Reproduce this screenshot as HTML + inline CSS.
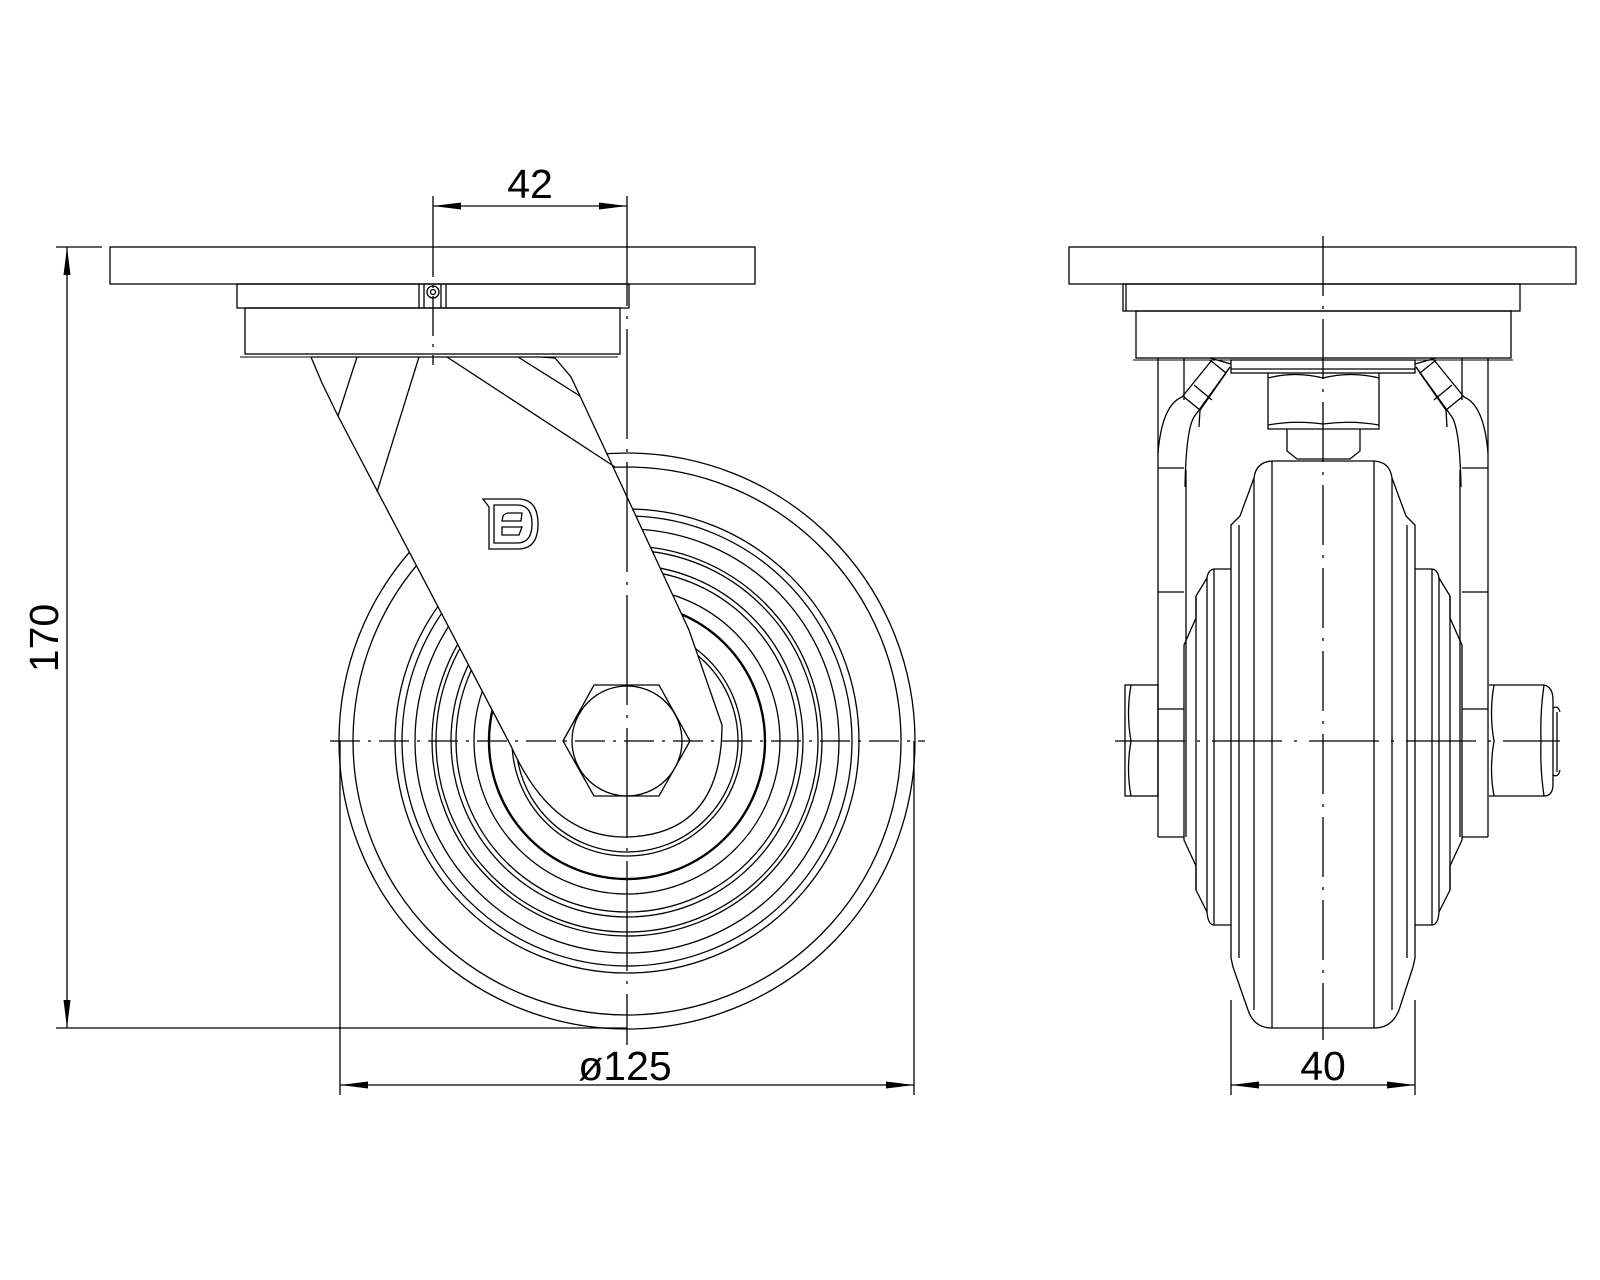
<!DOCTYPE html>
<html><head><meta charset="utf-8"><style>
html,body{margin:0;padding:0;background:#fff}
svg{display:block}
text{font-family:"Liberation Sans",sans-serif;font-size:41px;fill:#000}
</style></head><body>
<svg width="1600" height="1280" viewBox="0 0 1600 1280" xmlns="http://www.w3.org/2000/svg">
<defs>
<marker id="a" markerWidth="30" markerHeight="10" refX="28" refY="5" orient="auto-start-reverse" markerUnits="userSpaceOnUse">
<path d="M28,5 L0,1.5 L0,8.5 Z" fill="#000"/></marker>
</defs>
<g fill="none" stroke="#000" stroke-width="1.3">
<!-- ===== LEFT VIEW ===== -->
<rect x="110" y="247" width="645" height="37"/>
<rect x="237" y="284" width="392" height="24"/>
<line x1="424" y1="284" x2="424" y2="308"/><line x1="419" y1="284" x2="419" y2="308"/>
<line x1="441" y1="284" x2="441" y2="308"/><line x1="446" y1="284" x2="446" y2="308"/>
<circle cx="433" cy="292" r="6"/><circle cx="433" cy="292" r="2.5"/>
<rect x="245" y="308" width="375" height="46"/>
<line x1="240" y1="357" x2="618" y2="357" stroke-width="1"/>
<g>
<circle cx="627" cy="741" r="288"/>
<circle cx="627" cy="741" r="274"/>
<circle cx="627" cy="741" r="232"/>
<circle cx="627" cy="741" r="225"/>
<circle cx="627" cy="741" r="212"/>
<circle cx="627" cy="741" r="195"/>
<circle cx="627" cy="741" r="191"/>
<circle cx="627" cy="741" r="176"/>
<circle cx="627" cy="741" r="171"/>
<circle cx="627" cy="741" r="153"/>
<circle cx="627" cy="741" r="138" stroke-width="2.4"/>
<circle cx="627" cy="741" r="115"/>
<circle cx="627" cy="741" r="111"/>
</g>
<path d="M311,357 L322,383 L338,416 L511,746 Q552,838 626,837 Q722,835 722,725 L689,630 L580,396 L571,377 L555,358 L540,357 Z" fill="#fff"/>
<line x1="447" y1="357" x2="615" y2="467"/>
<line x1="518" y1="357" x2="580" y2="396"/>
<line x1="357" y1="357" x2="338" y2="416"/>
<line x1="419" y1="357" x2="377" y2="492"/>
<path d="M483,499 L518,499 Q538,499 538,524 Q538,549 518,549 L489,549 L489,507 Z"/>
<path d="M494,505 L517,505 Q532,505 532,524 Q532,543 517,543 L494,543 Z"/>
<path d="M503,516 Q505,513 510,513 L522,513 L521,521 L502,521 Z"/>
<path d="M502,527 L522,527 L519,535 L502,535 Z"/>
<polygon points="563,741 594,685 659,685 690,741 659,796 594,796" fill="#fff"/>
<circle cx="627" cy="741" r="55"/>
<line x1="433" y1="237" x2="433" y2="365" stroke-dasharray="40 8 3 8"/>
<line x1="627" y1="196" x2="627" y2="1045" stroke-dasharray="110 10 3 10"/>
<line x1="330" y1="741" x2="925" y2="741" stroke-dasharray="30 8 3 8"/>
<line x1="433" y1="196" x2="433" y2="237"/>
<line x1="433" y1="206" x2="627" y2="206" marker-start="url(#a)" marker-end="url(#a)"/>
<line x1="56" y1="247" x2="102" y2="247"/>
<line x1="56" y1="1028" x2="627" y2="1028"/>
<line x1="67" y1="247" x2="67" y2="1028" marker-start="url(#a)" marker-end="url(#a)"/>
<line x1="340" y1="741" x2="340" y2="1095"/>
<line x1="914" y1="741" x2="914" y2="1095"/>
<line x1="340" y1="1085" x2="914" y2="1085" marker-start="url(#a)" marker-end="url(#a)"/>

<!-- ===== RIGHT VIEW ===== -->
<rect x="1069" y="247" width="507" height="37"/>
<rect x="1123" y="284" width="397" height="27"/>
<line x1="1126" y1="284" x2="1126" y2="311"/>
<rect x="1136" y="311" width="375" height="47"/>
<line x1="1133" y1="360" x2="1513" y2="360" stroke-width="1"/>
<rect x="1231" y="360" width="184" height="13"/>
<line x1="1231" y1="369" x2="1415" y2="369"/>
<path d="M1268,373 L1268,429 L1379,429 L1379,373"/>
<path d="M1268,378 Q1295,371 1323,378 Q1351,371 1379,378"/>
<path d="M1268,425 Q1295,420 1323,424 Q1351,420 1379,425"/>
<path d="M1287,429 L1287,451 L1297,459 L1350,459 L1360,451 L1360,429"/>
<path d="M1272,461 L1374,461 Q1390,462 1392,478 L1406,516 L1415,525 L1415,958 L1413,967 L1399,1010 Q1392,1028 1374,1028 L1272,1028 Q1254,1028 1248,1010 L1233,967 L1231,958 L1231,525 L1240,516 L1254,478 Q1256,462 1272,461 Z" fill="#fff"/>
<line x1="1254" y1="478" x2="1254" y2="1010"/>
<line x1="1392" y1="478" x2="1392" y2="1010"/>
<line x1="1272" y1="461" x2="1272" y2="1028"/>
<line x1="1374" y1="461" x2="1374" y2="1028"/>
<line x1="1239" y1="525" x2="1239" y2="958"/>
<line x1="1407" y1="525" x2="1407" y2="958"/>
<g id="half">
<path d="M1231,569 L1214,569 Q1208,570 1207,578 L1196,596 L1196,618 L1184,645 L1184,840 L1196,866 L1196,890 L1207,912 Q1208,925 1214,925 L1231,925"/>
<line x1="1207" y1="578" x2="1207" y2="912"/>
<line x1="1214" y1="569" x2="1214" y2="925"/>
<line x1="1196" y1="596" x2="1196" y2="890"/>
<line x1="1158" y1="358" x2="1158" y2="837"/>
<line x1="1184" y1="358" x2="1184" y2="400"/>
<line x1="1186" y1="470" x2="1186" y2="837"/>
<line x1="1158" y1="837" x2="1184" y2="837"/>
<line x1="1158" y1="468" x2="1184" y2="468"/>
<line x1="1158" y1="592" x2="1184" y2="592"/>
<line x1="1158" y1="709" x2="1184" y2="709"/>
<path d="M1158,453 Q1162,405 1182,397 L1212,360"/>
<path d="M1185,487 Q1186,430 1194,417 L1230,367"/>
<path d="M1184,397 L1200,410 L1230,367"/>
<path d="M1210,360 L1226,373 L1200,410"/>
<path d="M1194,385 L1212,400"/>
<path d="M1200,410 L1199,427"/>
<path d="M1210,358 L1231,364"/>
</g>
<use href="#half" transform="translate(2646,0) scale(-1,1)"/>
<rect x="1125" y="685" width="33" height="111"/>
<path d="M1131,685 Q1126,713 1131,741 Q1126,769 1131,796"/>
<path d="M1489,685 L1544,685 Q1553,687 1553,700 L1553,784 Q1553,796 1544,796 L1489,796"/>
<path d="M1494,685 Q1489,713 1494,741 Q1489,769 1494,796"/>
<path d="M1544,685 Q1540,713 1541,741 Q1540,769 1544,796"/>
<path d="M1553,708 Q1558,705 1560,712 M1553,775 Q1558,778 1560,770 M1557,712 L1557,772"/>
<line x1="1323" y1="236" x2="1323" y2="1040" stroke-dasharray="60 10 3 10"/>
<line x1="1115" y1="741" x2="1560" y2="741" stroke-dasharray="70 12 3 12"/>
<line x1="1231" y1="1000" x2="1231" y2="1095"/>
<line x1="1415" y1="1000" x2="1415" y2="1095"/>
<line x1="1231" y1="1085" x2="1415" y2="1085" marker-start="url(#a)" marker-end="url(#a)"/>
</g>
<text x="530" y="198" text-anchor="middle">42</text>
<text x="625" y="1080" text-anchor="middle">ø125</text>
<text x="1323" y="1080" text-anchor="middle">40</text>
<text transform="translate(58,638) rotate(-90)" text-anchor="middle">170</text>
</svg>
</body></html>
